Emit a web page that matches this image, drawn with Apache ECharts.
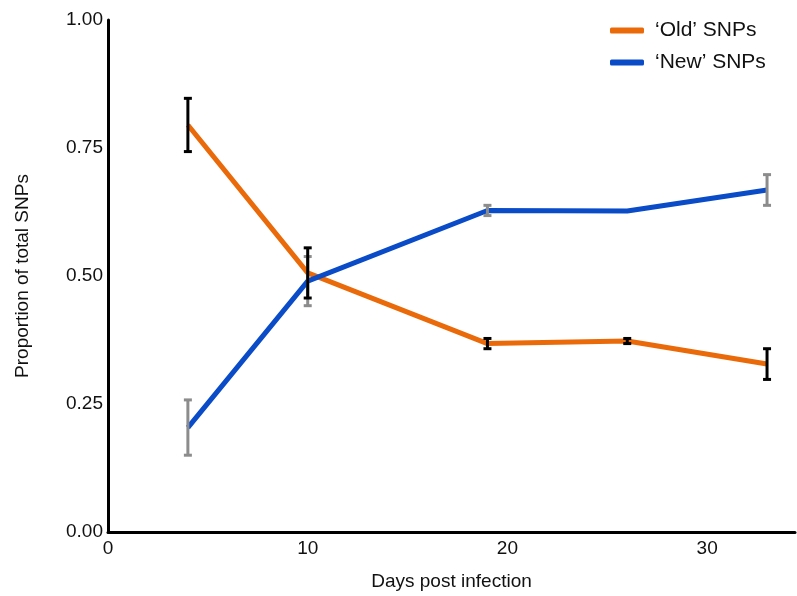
<!DOCTYPE html>
<html>
<head>
<meta charset="utf-8">
<script src="https://cdn.jsdelivr.net/npm/echarts@6/dist/echarts.min.js"></script>
<style>html,body{margin:0;padding:0;background:#fff;}#c{width:797px;height:596px;}</style>
</head>
<body>
<div id="c"></div>
<script>
const days = [4, 10, 19, 26, 33];
const oldMean = [0.795, 0.506, 0.368, 0.373, 0.328];
const oldErr  = [0.052, 0.049, 0.010, 0.005, 0.030];
const newMean = [0.204, 0.490, 0.628, 0.627, 0.668];
const newErr  = [0.054, 0.048, 0.010, 0.000, 0.030];
const xTicks = [0, 10, 20, 30];
const yTicks = [0, 0.25, 0.5, 0.75, 1.0];

const FONT = 'Liberation Sans, Arial, sans-serif';
const ORANGE = '#EA6A0A';
const BLUE = '#0A4BC8';

function pairs(m) { return days.map((d, i) => [d, m[i]]); }
function errData(m, e) { return days.map((d, i) => [d, m[i] - e[i], m[i] + e[i]]); }

function errRender(color) {
  return function (params, api) {
    const x = api.value(0);
    const lo = api.coord([x, api.value(1)]);
    const hi = api.coord([x, api.value(2)]);
    const hw = 4;
    const style = { stroke: color, lineWidth: 3, fill: null };
    return {
      type: 'group',
      children: [
        { type: 'line', shape: { x1: lo[0], y1: lo[1], x2: hi[0], y2: hi[1] }, style: style },
        { type: 'line', shape: { x1: lo[0] - hw, y1: lo[1], x2: lo[0] + hw, y2: lo[1] }, style: style },
        { type: 'line', shape: { x1: hi[0] - hw, y1: hi[1], x2: hi[0] + hw, y2: hi[1] }, style: style }
      ]
    };
  };
}

const chart = echarts.init(document.getElementById('c'), null, { renderer: 'canvas' });
chart.setOption({
  animation: false,
  backgroundColor: '#fff',
  grid: { left: 108, top: 20, width: 687, height: 512, containLabel: false },
  legend: {
    orient: 'vertical',
    left: 605,
    top: 15,
    itemWidth: 34,
    itemHeight: 6,
    itemGap: 11,
    icon: 'roundRect',
    textStyle: { fontFamily: FONT, fontSize: 21, color: '#111', lineHeight: 21, padding: [0, 0, 0, 6] },
    data: [
      { name: '‘Old’ SNPs', itemStyle: { color: ORANGE } },
      { name: '‘New’ SNPs', itemStyle: { color: BLUE } }
    ]
  },
  xAxis: {
    type: 'value',
    min: 0,
    max: 34.4,
    interval: 10,
    name: 'Days post infection',
    nameLocation: 'middle',
    nameGap: 40,
    nameTextStyle: { fontFamily: FONT, fontSize: 19, color: '#111' },
    axisLine: { show: true, onZero: false, lineStyle: { color: '#000', width: 3 } },
    axisTick: { show: false },
    splitLine: { show: false },
    axisLabel: {
      fontFamily: FONT, fontSize: 19, color: '#111', margin: 7,
      showMaxLabel: false,
      formatter: v => xTicks.includes(v) ? String(v) : ''
    }
  },
  yAxis: {
    type: 'value',
    min: 0,
    max: 1,
    interval: 0.25,
    name: 'Proportion of total SNPs',
    nameLocation: 'middle',
    nameGap: 76,
    nameTextStyle: { fontFamily: FONT, fontSize: 19, color: '#111' },
    axisLine: { show: true, lineStyle: { color: '#000', width: 3 } },
    axisTick: { show: false },
    splitLine: { show: false },
    axisLabel: {
      fontFamily: FONT, fontSize: 19, color: '#111', margin: 5,
      formatter: v => yTicks.includes(v) ? v.toFixed(2) : ''
    }
  },
  series: [
    {
      name: '‘Old’ SNPs', type: 'line', data: pairs(oldMean), showSymbol: false, symbol: 'none',
      lineStyle: { color: ORANGE, width: 5 }, itemStyle: { color: ORANGE }, z: 2
    },
    {
      name: '‘New’ SNPs', type: 'line', data: pairs(newMean), showSymbol: false, symbol: 'none',
      lineStyle: { color: BLUE, width: 5 }, itemStyle: { color: BLUE }, z: 2
    },
    {
      name: 'newErr', type: 'custom', data: errData(newMean, newErr).filter((d, i) => newErr[i] > 0),
      renderItem: errRender('#8c8c8c'), z: 3, silent: true
    },
    {
      name: 'oldErr', type: 'custom', data: errData(oldMean, oldErr),
      renderItem: errRender('#000'), z: 4, silent: true
    }
  ]
});
</script>
</body>
</html>
